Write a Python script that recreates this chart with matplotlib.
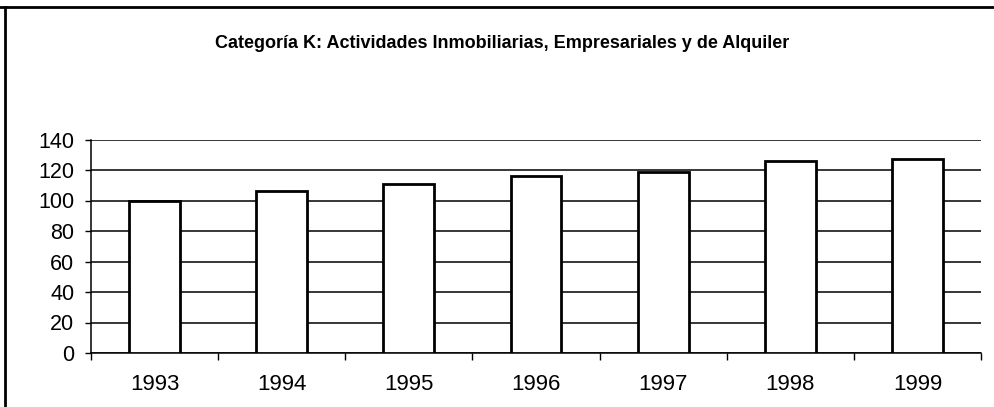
import matplotlib
matplotlib.use("Agg")
import matplotlib.pyplot as plt
from matplotlib.lines import Line2D
import numpy as np

years = ["1993", "1994", "1995", "1996", "1997", "1998", "1999"]
values = [100, 106.5, 111, 116, 119, 126, 127]
yticks = [0, 20, 40, 60, 80, 100, 120, 140]
title = "Categoría K: Actividades Inmobiliarias, Empresariales y de Alquiler"

plt.rcParams['font.family'] = ['Liberation Sans', 'DejaVu Sans']

fig = plt.figure(figsize=(9.94, 4.07), dpi=100)
ax = fig.add_axes([91/994, 54/407, 890/994, (353-139.5)/407])

x = np.arange(len(years))
ax.bar(x, values, width=0.4, color="white", edgecolor="black", linewidth=2.0, zorder=3)

ax.set_xlim(-0.5, len(years) - 0.5)
ax.set_ylim(0, 140)
ax.set_yticks(yticks)
ax.set_yticklabels([str(v) for v in yticks], fontsize=15.5)
ax.yaxis.grid(True, color="black", linewidth=1.1)
ax.set_axisbelow(True)

ax.set_xticks(x)
ax.set_xticklabels(years, fontsize=16)
ax.tick_params(axis="x", which="major", length=0, pad=15)
ax.set_xticks(np.arange(-0.5, len(years)), minor=True)
ax.tick_params(axis="x", which="minor", length=5, width=1.0, direction="out")
ax.tick_params(axis="y", length=4, width=1.0, pad=8)

for s in ["top", "right"]:
    ax.spines[s].set_visible(False)
ax.spines["left"].set_linewidth(1.1)
ax.spines["bottom"].set_linewidth(1.1)

fig.text(502/994, 1 - 44/407, title, ha="center", va="center", fontsize=13, fontweight="bold")

# outer frame (top and left edges visible)
fig.add_artist(Line2D([0, 1], [1 - 6.5/407, 1 - 6.5/407], color="black", linewidth=2, transform=fig.transFigure))
fig.add_artist(Line2D([5/994, 5/994], [0, 1 - 6.5/407], color="black", linewidth=2, transform=fig.transFigure))

fig.savefig("out.png", dpi=100)
